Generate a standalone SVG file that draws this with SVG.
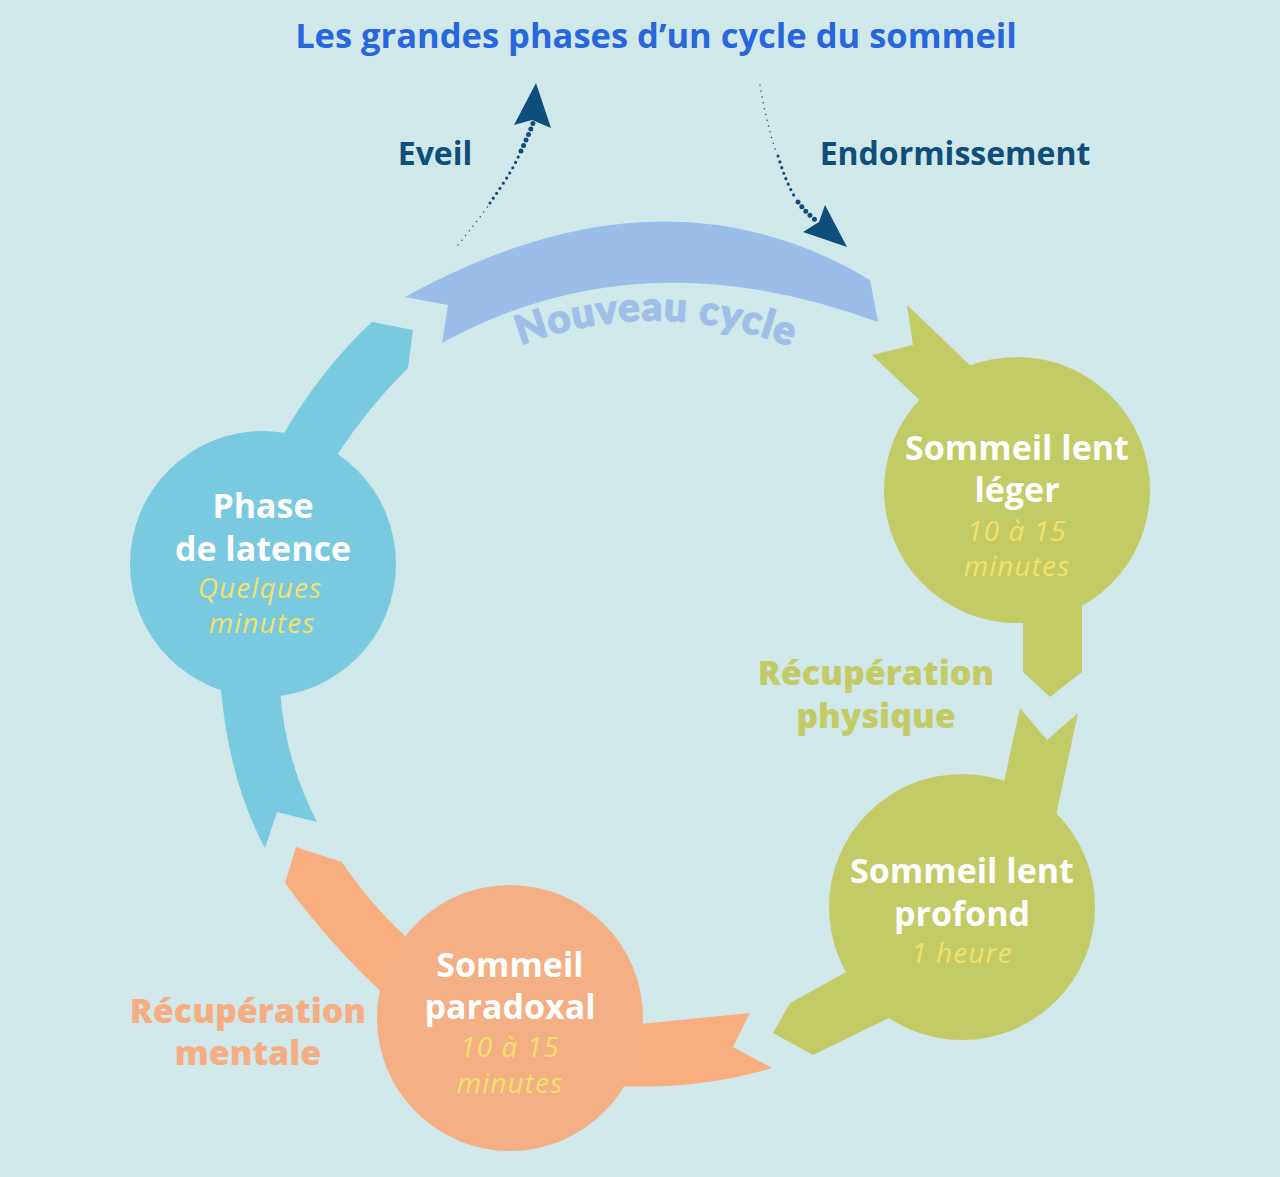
<svg xmlns="http://www.w3.org/2000/svg" width="1280" height="1177" viewBox="0 0 1280 1177">
<style>
.t{font-family:"Open Sans","Liberation Sans",sans-serif;text-anchor:middle}
.w{fill:#ffffff;font-weight:700;font-size:34px}
.y{fill:#f2e26b;font-style:italic;font-size:28px;letter-spacing:1.1px}
.dk{fill:#0f4e7a;font-weight:700;font-size:32px}
.rg{fill:#c3cb66;font-weight:800;font-size:34px}
.ro{fill:#f5ae84;font-weight:800;font-size:34px}
.blue{fill:#79c9e0}
.green{fill:#c3cb66}
.orng{fill:#f9ae80}
.dots{fill:none;stroke:#0f4e7a;stroke-linecap:round;stroke-dasharray:0 6}
</style>
<defs>
<path id="nc" d="M506,351 Q656,289 806,353"/>
</defs>
<rect width="1280" height="1177" fill="#d1e8ea"/>
<text class="t" x="656" y="48" fill="#2766dc" font-weight="700" font-size="34.5">Les grandes phases d’un cycle du sommeil</text>

<g id="connectors">
  <path class="dots" d="M458,245 C470,230 478,220 488,206" stroke-width="1.5"/>
  <path class="dots" d="M490,203 C500,188 512,172 520,153" stroke-width="3.2"/>
  <path class="dots" d="M521,151 C526,140 530,132 533,123" stroke-width="5"/>
  <polygon points="536,83 551,128 532,120 514,125" fill="#0f4e7a"/>
  <path class="dots" d="M760,85 C764,110 769,130 776,152" stroke-width="1.5"/>
  <path class="dots" d="M778,156 C783,172 788,186 796,199" stroke-width="3.2"/>
  <path class="dots" d="M798,202 C804,210 810,216 818,222" stroke-width="5"/>
  <polygon points="847,247 803,232 819,222 825,205" fill="#0f4e7a"/>
</g>

<g id="eveil"><text class="t dk" x="435" y="165">Eveil</text></g>
<g id="endormissement"><text class="t dk" x="955" y="165">Endormissement</text></g>

<g id="nouveau-cycle">
  <path d="M405,297 Q662,155 870,280 L878,322 Q640,234 442,343 L448,305 Z" fill="#9bbde9"/>
  <text font-family="Lato,'Open Sans',sans-serif" font-weight="900" font-size="40" fill="#9fbfe9" stroke="#9fbfe9" stroke-width="1.4" letter-spacing="1.2" text-anchor="middle"><textPath href="#nc" startOffset="50%">Nouveau cycle</textPath></text>
</g>

<g id="phase-latence">
  <path class="blue" d="M280,440 Q320,370 372,322 L413,330 L408,368 Q370,405 337,455 Z"/>
  <path class="blue" d="M220,680 Q228,780 265,848 L277,812 L317,822 Q285,760 280,690 Z"/>
  <circle class="blue" cx="263" cy="564" r="133"/>
  <text class="t w" x="263" y="518">Phase</text>
  <text class="t w" x="263" y="561">de latence</text>
  <text class="t y" x="260" y="598">Quelques</text>
  <text class="t y" x="262" y="633">minutes</text>
</g>

<g id="sommeil-lent-leger">
  <path class="green" d="M975,370 L907,305 L913,345 L872,355 L930,410 Z"/>
  <path class="green" d="M1023,595 L1023,672 L1050,697 L1082,672 L1082,595 Z"/>
  <circle class="green" cx="1017" cy="490" r="133"/>
  <text class="t w" x="1017" y="460">Sommeil lent</text>
  <text class="t w" x="1017" y="502">léger</text>
  <text class="t y" x="1017" y="541">10 à 15</text>
  <text class="t y" x="1017" y="576">minutes</text>
</g>

<g id="recuperation-physique">
  <text class="t rg" x="876" y="685">Récupération</text>
  <text class="t rg" x="876" y="728">physique</text>
</g>

<g id="sommeil-lent-profond">
  <path class="green" d="M1000,800 L1020,708 L1047,740 L1078,713 L1055,820 Z"/>
  <path class="green" d="M850,970 L790,1003 L773,1033 L813,1055 L895,1015 Z"/>
  <circle class="green" cx="962" cy="907" r="133"/>
  <text class="t w" x="962" y="883">Sommeil lent</text>
  <text class="t w" x="962" y="926">profond</text>
  <text class="t y" x="962" y="963">1 heure</text>
</g>

<g id="sommeil-paradoxal">
  <path class="orng" d="M296,847 L342,862 Q370,905 415,945 L390,1000 Q330,945 285,883 Z"/>
  <path class="orng" d="M620,1026 L750,1013 L733,1047 L772,1068 Q700,1090 620,1086 Z"/>
  <circle cx="510" cy="1018" r="133" fill="#f4af85"/>
  <text class="t w" x="510" y="977">Sommeil</text>
  <text class="t w" x="510" y="1019">paradoxal</text>
  <text class="t y" x="510" y="1057">10 à 15</text>
  <text class="t y" x="510" y="1093">minutes</text>
</g>

<g id="recuperation-mentale">
  <text class="t ro" x="248" y="1023">Récupération</text>
  <text class="t ro" x="248" y="1065">mentale</text>
</g>
</svg>
